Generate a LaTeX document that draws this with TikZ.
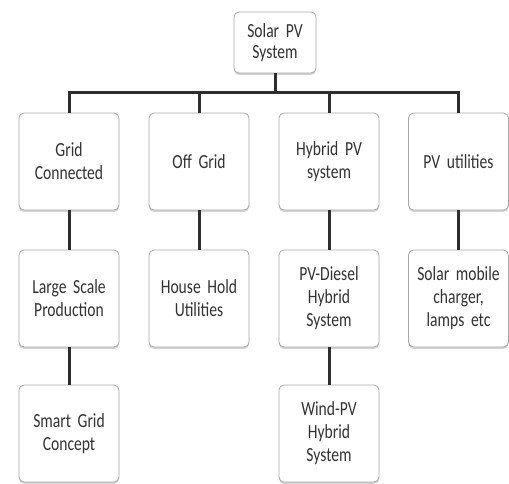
\documentclass[tikz,border=0pt]{standalone}
\usepackage{fontspec}
\setmainfont{Carlito}
\newfontfamily\narrowfont[FakeStretch=0.78]{Carlito}
\newcommand{\boxfont}[1]{\narrowfont\fontsize{20}{#1}\selectfont\fontdimen2\font=3pt\fontdimen3\font=0pt\fontdimen4\font=0pt}
\usetikzlibrary{shadows}
\definecolor{txt}{HTML}{333333}
\definecolor{bord}{HTML}{A8A8A8}
\definecolor{conn}{HTML}{2E2E2E}
\tikzset{
  box/.style={draw=bord, line width=0.8pt, rounded corners=5pt, fill=white,
    align=center, text=txt, inner sep=2pt,
    font=\boxfont{23},
    drop shadow={opacity=0.35, shadow xshift=0pt, shadow yshift=-2pt}},
  wbox/.style={box, minimum width=100pt, minimum height=97pt, text width=96pt},
  link/.style={draw=conn, line width=3pt}
}
\begin{document}
\begin{tikzpicture}[x=1pt,y=1pt]
\useasboundingbox (0,0) rectangle (509,483);
% top
\node[box, minimum width=82pt, minimum height=61pt, text width=78pt,
  font=\boxfont{21}] (top) at (275,440.5) {Solar PV\\System};
% row 1
\node[wbox] (gc) at (69,321.5) {Grid\\Connected};
\node[wbox] (og) at (199,321.5) {Off Grid};
\node[wbox] (hy) at (329,321.5) {Hybrid PV\\system};
\node[wbox] (pu) at (458.5,321.5) {PV utilities};
% row 2
\node[wbox] (ls) at (69,184.5) {Large Scale\\Production};
\node[wbox] (hh) at (199,184.5) {House Hold\\Utilities};
\node[wbox] (pd) at (329,184.5) {PV-Diesel\\Hybrid\\System};
\node[wbox] (sm) at (458.5,184.5) {Solar mobile\\charger,\\lamps etc};
% row 3
\node[wbox] (sg) at (69,49.5) {Smart Grid\\Concept};
\node[wbox] (wp) at (329,49.5) {Wind-PV\\Hybrid\\System};
\coordinate (bar) at (275,390);
\draw[link] (top.south) -- (bar);
\draw[link] (bar) -| (gc.north);
\draw[link] (bar) -| (og.north);
\draw[link] (bar) -| (hy.north);
\draw[link] (bar) -| (pu.north);
\draw[link] (gc.south) -- (ls.north);
\draw[link] (og.south) -- (hh.north);
\draw[link] (hy.south) -- (pd.north);
\draw[link] (pu.south) -- (sm.north);
\draw[link] (ls.south) -- (sg.north);
\draw[link] (pd.south) -- (wp.north);
\end{tikzpicture}
\end{document}
